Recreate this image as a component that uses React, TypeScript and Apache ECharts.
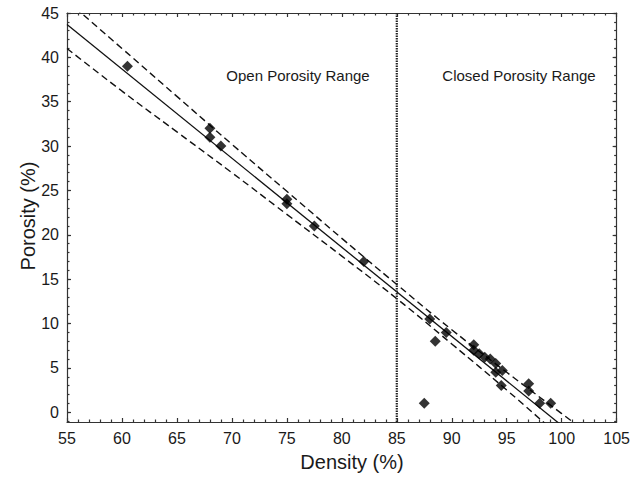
import React, { useEffect, useRef } from "react";
import * as echarts from "echarts";

const densityPoints = [60.5, 68, 68, 69, 75, 75, 77.5, 82, 87.5, 88, 88.5, 89.5, 92, 92, 92.5, 93, 93.5, 94, 94, 94.6, 94.5, 97, 97, 98, 99];
const porosityPoints = [39, 32, 31, 30, 24, 23.5, 21, 17, 1, 10.5, 8, 9, 7.6, 7, 6.6, 6.2, 6, 5.5, 4.5, 4.7, 3, 3.2, 2.4, 1, 1];

const fitX = [55, 101];
const fitY = [43.7, -2.5];

const bandX = [55, 60, 65, 70, 75, 80, 85, 90, 95, 100, 102];
const bandUpper = [46.4, 41.0, 35.6, 30.2, 24.9, 19.6, 14.4, 9.3, 4.5, -0.15, -2.0];
const bandLower = [41.0, 36.2, 31.6, 27.0, 22.3, 17.6, 12.8, 7.7, 2.5, -2.9, -5.0];

const boundaryX = 85;
const yTickLabels = [0, 5, 10, 15, 20, 25, 30, 35, 40, 45];
const yMinorTicks = Array.from({ length: 47 }, (_, i) => i - 1);

const X_MIN = 55;
const X_MAX = 105;
const Y_MIN = -1.1;
const Y_MAX = 45;

const FONT = "Liberation Sans, Arial, Helvetica, sans-serif";

export default function App() {
  const ref = useRef<HTMLDivElement>(null);
  useEffect(() => {
    document.body.style.margin = "0";
    if (!ref.current) return;
    const chart = echarts.init(ref.current, undefined, { renderer: "svg" });
    const axisColor = "#333";
    const lineStyle = { color: axisColor, width: 1.2 };
    const xBase = (pos: string, labels: boolean) => ({
      type: "value",
      min: X_MIN,
      max: X_MAX,
      interval: 5,
      position: pos,
      axisLine: { show: true, onZero: false, lineStyle },
      axisTick: { show: true, inside: true, length: 4, lineStyle },
      minorTick: { show: true, splitNumber: 5, length: 2.5, lineStyle },
      axisLabel: { show: labels, fontSize: 16, color: "#1a1a1a", margin: 8, fontFamily: FONT },
      splitLine: { show: false },
      minorSplitLine: { show: false },
    });
    const yMajor = (pos: string, labels: boolean) => ({
      type: "value",
      min: Y_MIN,
      max: Y_MAX,
      position: pos,
      axisLine: { show: true, onZero: false, lineStyle },
      axisTick: { show: true, inside: true, length: 4, lineStyle, customValues: yTickLabels },
      axisLabel: { show: labels, fontSize: 16, color: "#1a1a1a", margin: 8, fontFamily: FONT, customValues: yTickLabels },
      splitLine: { show: false },
    });
    const yMinor = (pos: string) => ({
      type: "value",
      min: Y_MIN,
      max: Y_MAX,
      position: pos,
      axisLine: { show: false },
      axisTick: { show: true, inside: true, length: 2.5, lineStyle, customValues: yMinorTicks },
      axisLabel: { show: false },
      splitLine: { show: false },
    });
    const series: any[] = [
      {
        type: "line",
        data: bandX.map((x, i) => [x, bandUpper[i]]),
        symbol: "none",
        smooth: true,
        lineStyle: { color: "#111", width: 1.4, type: [7, 4] },
        clip: true,
        z: 2,
      },
      {
        type: "line",
        data: bandX.map((x, i) => [x, bandLower[i]]),
        symbol: "none",
        smooth: true,
        lineStyle: { color: "#111", width: 1.4, type: [7, 4] },
        clip: true,
        z: 2,
      },
      {
        type: "line",
        data: fitX.map((x, i) => [x, fitY[i]]),
        symbol: "none",
        lineStyle: { color: "#111", width: 1.3 },
        clip: true,
        z: 2,
      },
      {
        type: "line",
        data: [[boundaryX, Y_MIN], [boundaryX, Y_MAX]],
        symbol: "none",
        lineStyle: { color: "#222", width: 2.2, type: [1.5, 1] },
        clip: true,
        z: 3,
      },
      {
        type: "scatter",
        data: densityPoints.map((x, i) => [x, porosityPoints[i]]),
        symbol: "diamond",
        symbolSize: [11, 11],
        itemStyle: { color: "#000" },
        z: 4,
      },
    ];
    chart.setOption({
      animation: false,
      backgroundColor: "#fff",
      grid: { left: 67, right: 13, top: 13, bottom: 55, containLabel: false },
      xAxis: [xBase("bottom", true), xBase("top", false)],
      yAxis: [yMajor("left", true), yMinor("left"), yMajor("right", false), yMinor("right")],
      series,
      graphic: [
        {
          type: "text",
          x: 298,
          y: 75,
          style: { text: "Open Porosity Range", fontSize: 15, fontFamily: FONT, fill: "#1a1a1a", textAlign: "center", textVerticalAlign: "middle" },
        },
        {
          type: "text",
          x: 519,
          y: 75,
          style: { text: "Closed Porosity Range", fontSize: 15, fontFamily: FONT, fill: "#1a1a1a", textAlign: "center", textVerticalAlign: "middle" },
        },
        {
          type: "text",
          x: 352,
          y: 462,
          style: { text: "Density (%)", fontSize: 20, fontFamily: FONT, fill: "#1a1a1a", textAlign: "center", textVerticalAlign: "middle" },
        },
        {
          type: "text",
          x: 28,
          y: 216,
          rotation: Math.PI / 2,
          style: { text: "Porosity (%)", fontSize: 20, fontFamily: FONT, fill: "#1a1a1a", textAlign: "center", textVerticalAlign: "middle" },
        },
      ],
    });
    return () => chart.dispose();
  }, []);
  return <div ref={ref} style={{ width: 633, height: 477 }} />;
}
